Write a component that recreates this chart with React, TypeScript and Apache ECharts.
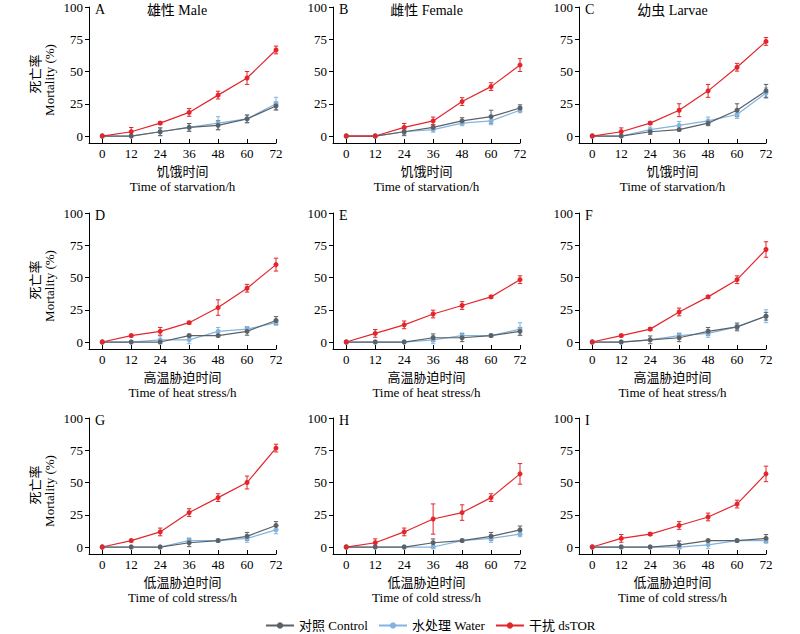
import React, { useEffect, useRef } from "react";
import * as echarts from "echarts";

const HOURS = [0, 12, 24, 36, 48, 60, 72];
const Y_TICKS = [0, 25, 50, 75, 100];

const SERIES_NAMES = ["对照 Control", "水处理 Water", "干扰 dsTOR"];
const COLORS = ["#5b6166", "#82b4e0", "#e3262b"];

const PANEL_LETTERS = ["A", "B", "C", "D", "E", "F", "G", "H", "I"];
const COLUMN_TITLES = ["雄性 Male", "雌性 Female", "幼虫 Larvae"];
const ROW_AXIS_NAMES = [
  "饥饿时间\nTime of starvation/h",
  "高温胁迫时间\nTime of heat stress/h",
  "低温胁迫时间\nTime of cold stress/h",
];

// A: starvation, male
const A_control = [0, 0, 3.3, 6.7, 8.3, 13.3, 23.3];
const A_controlErr = [0, 0, 3, 3, 3.5, 3, 3];
const A_water = [0, 0, 3.3, 6.7, 10, 13.3, 25];
const A_waterErr = [0, 0, 3, 3, 5, 3, 5];
const A_tor = [0, 3.3, 10, 18.3, 31.7, 45, 66.7];
const A_torErr = [0, 3.3, 1, 3, 3, 5, 3];

// B: starvation, female
const B_control = [0, 0, 3.3, 6.7, 11.7, 15, 21.7];
const B_controlErr = [0, 0, 3, 2, 2.5, 5, 2.5];
const B_water = [0, 0, 3.3, 5, 10, 11.7, 20];
const B_waterErr = [0, 0, 2, 2, 2, 3, 2];
const B_tor = [0, 0, 6.7, 11.7, 26.7, 38.3, 55];
const B_torErr = [0, 0, 3, 3, 3, 3, 5];

// C: starvation, larvae
const C_control = [0, 0, 3.3, 5, 10, 20, 35];
const C_controlErr = [0, 0, 2, 1, 2, 5, 5];
const C_water = [0, 0, 5, 8.3, 11.7, 16.7, 33.3];
const C_waterErr = [0, 0, 2, 3, 3, 3, 4];
const C_tor = [0, 3.3, 10, 20, 35, 53.3, 73.3];
const C_torErr = [0, 3, 1, 5, 5, 3, 3];

// D: heat, male
const D_control = [0, 0, 0, 5, 5, 8.3, 16.7];
const D_controlErr = [0, 0, 0, 1, 1, 3, 3];
const D_water = [0, 0, 1.7, 1.7, 8.3, 10, 15];
const D_waterErr = [0, 0, 3, 3, 3, 2, 2];
const D_tor = [0, 5, 8.3, 15, 26.7, 41.7, 60];
const D_torErr = [0, 1, 3, 1, 6, 3, 5];

// E: heat, female
const E_control = [0, 0, 0, 3.3, 3.3, 5, 8.3];
const E_controlErr = [0, 0, 0, 3, 3, 1, 3];
const E_water = [0, 0, 0, 1.7, 5, 5, 10];
const E_waterErr = [0, 0, 0, 3, 2, 1, 5];
const E_tor = [0, 6.7, 13.3, 21.7, 28.3, 35, 48.3];
const E_torErr = [0, 3, 3, 3, 3, 1, 3];

// F: heat, larvae
const F_control = [0, 0, 1.7, 3.3, 8.3, 11.7, 20];
const F_controlErr = [0, 0, 3, 3, 3, 3, 3];
const F_water = [0, 0, 1.7, 5, 6.7, 11.7, 20];
const F_waterErr = [0, 0, 1, 2, 3, 2, 5];
const F_tor = [0, 5, 10, 23.3, 35, 48.3, 71.7];
const F_torErr = [0, 1, 1, 3, 1, 3, 6];

// G: cold, male
const G_control = [0, 0, 0, 3.3, 5, 8.3, 16.7];
const G_controlErr = [0, 0, 0, 3, 1, 3, 3];
const G_water = [0, 0, 0, 5, 5, 6.7, 13.3];
const G_waterErr = [0, 0, 0, 2, 1, 3, 3];
const G_tor = [0, 5, 11.7, 26.7, 38.3, 50, 76.7];
const G_torErr = [0, 1, 3, 3, 3, 5, 3];

// H: cold, female
const H_control = [0, 0, 0, 3.3, 5, 8.3, 13.3];
const H_controlErr = [0, 0, 0, 3, 1, 3, 3];
const H_water = [0, 0, 0, 0, 5, 6.7, 10];
const H_waterErr = [0, 0, 0, 1, 1, 3, 2];
const H_tor = [0, 3.3, 11.7, 21.7, 26.7, 38.3, 56.7];
const H_torErr = [0, 3, 3, 11.7, 6, 3, 8];

// I: cold, larvae
const I_control = [0, 0, 0, 1.7, 5, 5, 6.7];
const I_controlErr = [0, 0, 0, 3, 1, 1, 3];
const I_water = [0, 0, 0, 0, 1.7, 5, 5];
const I_waterErr = [0, 0, 0, 1, 3, 1, 2];
const I_tor = [0, 6.7, 10, 16.7, 23.3, 33.3, 56.7];
const I_torErr = [0, 3, 1, 3, 3, 3, 6];

const PANELS = [
  [A_control, A_controlErr, A_water, A_waterErr, A_tor, A_torErr],
  [B_control, B_controlErr, B_water, B_waterErr, B_tor, B_torErr],
  [C_control, C_controlErr, C_water, C_waterErr, C_tor, C_torErr],
  [D_control, D_controlErr, D_water, D_waterErr, D_tor, D_torErr],
  [E_control, E_controlErr, E_water, E_waterErr, E_tor, E_torErr],
  [F_control, F_controlErr, F_water, F_waterErr, F_tor, F_torErr],
  [G_control, G_controlErr, G_water, G_waterErr, G_tor, G_torErr],
  [H_control, H_controlErr, H_water, H_waterErr, H_tor, H_torErr],
  [I_control, I_controlErr, I_water, I_waterErr, I_tor, I_torErr],
];

const FONT = "'Liberation Serif', 'Times New Roman', 'Noto Sans CJK SC', serif";
const COL_LEFT = [89, 333, 579];
const ROW_TOP = [7, 213, 418];
const GRID_W = 187;
const GRID_H = 136;

function buildOption() {
  const grid: any[] = [];
  const xAxis: any[] = [];
  const yAxis: any[] = [];
  const series: any[] = [];
  const graphic: any[] = [];

  PANELS.forEach((panel, i) => {
    const row = Math.floor(i / 3);
    const col = i % 3;
    const left = COL_LEFT[col];
    const top = ROW_TOP[row];
    grid.push({ left, top, width: GRID_W, height: GRID_H });
    xAxis.push({
      type: "value",
      gridIndex: i,
      min: -5.5,
      max: 72,
      splitLine: { show: false },
      axisLine: { show: true, onZero: false, lineStyle: { color: "#000", width: 1 } },
      axisTick: { show: true, inside: true, length: 4, customValues: HOURS, lineStyle: { color: "#000" } },
      axisLabel: { customValues: HOURS, color: "#000", fontSize: 13, fontFamily: FONT, margin: 4 },
      name: ROW_AXIS_NAMES[row],
      nameLocation: "middle",
      nameGap: 21,
      nameTextStyle: { color: "#000", fontSize: 13, fontFamily: FONT, lineHeight: 15 },
    });
    yAxis.push({
      type: "value",
      gridIndex: i,
      min: -5.4,
      max: 100,
      splitLine: { show: false },
      axisLine: { show: true, onZero: false, lineStyle: { color: "#000", width: 1 } },
      axisTick: { show: true, inside: false, length: 4, customValues: Y_TICKS, lineStyle: { color: "#000" } },
      axisLabel: { customValues: Y_TICKS, color: "#000", fontSize: 13, fontFamily: FONT, margin: 6 },
    });

    // draw order: water, control, dsTOR
    const order = [1, 0, 2];
    order.forEach((k) => {
      const means = panel[k * 2];
      const errs = panel[k * 2 + 1];
      const color = COLORS[k];
      const errData = HOURS.map((h, j) => [h, means[j] - errs[j], means[j] + errs[j], errs[j]]).filter(
        (d) => d[3] > 0
      );
      series.push({
        type: "custom",
        name: "err" + i + "_" + k,
        xAxisIndex: i,
        yAxisIndex: i,
        data: errData,
        encode: { x: 0, y: [1, 2] },
        silent: true,
        renderItem: (params: any, api: any) => {
          const x = api.value(0);
          const p1 = api.coord([x, api.value(1)]);
          const p2 = api.coord([x, api.value(2)]);
          const w = 2.2;
          const st = { stroke: color, lineWidth: 1 };
          return {
            type: "group",
            children: [
              { type: "line", shape: { x1: p1[0], y1: p1[1], x2: p2[0], y2: p2[1] }, style: st },
              { type: "line", shape: { x1: p1[0] - w, y1: p1[1], x2: p1[0] + w, y2: p1[1] }, style: st },
              { type: "line", shape: { x1: p2[0] - w, y1: p2[1], x2: p2[0] + w, y2: p2[1] }, style: st },
            ],
          };
        },
      });
      series.push({
        type: "line",
        name: SERIES_NAMES[k],
        xAxisIndex: i,
        yAxisIndex: i,
        data: HOURS.map((h, j) => [h, means[j]]),
        symbol: "circle",
        symbolSize: 5,
        itemStyle: { color },
        lineStyle: { color, width: 1.2 },
      });
    });

    graphic.push({
      type: "text",
      left: left + 6,
      top: top - 5,
      style: { text: PANEL_LETTERS[i], fontSize: 14, fontFamily: FONT, fill: "#000" },
    });
    if (row === 0) {
      graphic.push({
        type: "text",
        x: col === 0 ? left + 88 : left + GRID_W / 2,
        y: top + 3,
        style: {
          text: COLUMN_TITLES[col],
          fontSize: 14,
          fontFamily: FONT,
          fill: "#000",
          textAlign: "center",
          textVerticalAlign: "middle",
        },
      });
    }
    if (col === 0) {
      graphic.push({
        type: "text",
        x: 35,
        y: top + GRID_H / 2 - 1,
        rotation: Math.PI / 2,
        style: {
          text: "死亡率",
          fontSize: 13,
          fontFamily: FONT,
          fill: "#000",
          textAlign: "center",
          textVerticalAlign: "middle",
        },
      });
      graphic.push({
        type: "text",
        x: 49,
        y: top + GRID_H / 2 + 5,
        rotation: Math.PI / 2,
        style: {
          text: "Mortality (%)",
          fontSize: 13,
          fontFamily: FONT,
          fill: "#000",
          textAlign: "center",
          textVerticalAlign: "middle",
        },
      });
    }
  });

  return {
    animation: false,
    backgroundColor: "#fff",
    grid,
    xAxis,
    yAxis,
    series,
    graphic,
    legend: {
      data: SERIES_NAMES,
      left: 260,
      top: 614,
      itemWidth: 28,
      itemHeight: 8,
      itemGap: 10,
      textStyle: { color: "#000", fontSize: 13, fontFamily: FONT },
    },
  };
}

export default function App() {
  const ref = useRef<HTMLDivElement>(null);
  useEffect(() => {
    if (!ref.current) return;
    const chart = echarts.init(ref.current, undefined, { renderer: "svg" });
    chart.setOption(buildOption() as any);
    return () => chart.dispose();
  }, []);
  return (
    <div
      ref={ref}
      style={{ position: "fixed", left: 0, top: 0, width: 800, height: 634, background: "#fff" }}
    />
  );
}
